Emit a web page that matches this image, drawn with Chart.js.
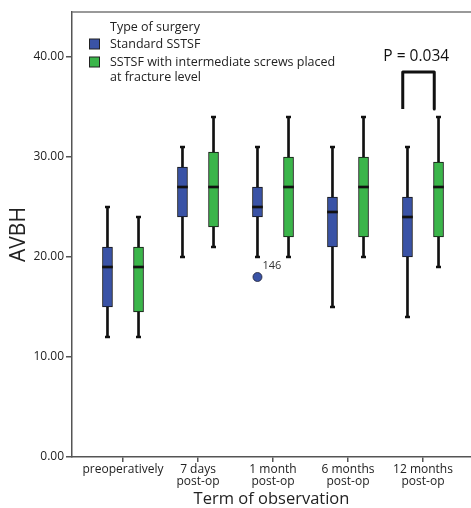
<!DOCTYPE html>
<html>
<head>
<meta charset="utf-8">
<script src="https://cdn.jsdelivr.net/npm/chart.js@4/dist/chart.umd.min.js"></script>
<style>
  html, body { margin: 0; padding: 0; background: #fff; overflow: hidden; }
  canvas { display: block; }
</style>
</head>
<body>
<canvas id="c" width="471" height="508"></canvas>
<script>
// ---- data ----
const categories = [["preoperatively"], ["7 days", "post-op"], ["1 month", "post-op"], ["6 months", "post-op"], ["12 months", "post-op"]];
const seriesNames = ["Standard SSTSF", "SSTSF with intermediate screws placed|at fracture level"];
const legendTitle = "Type of surgery";

const standardMin = [12, 20, 20, 15, 14];
const standardQ1  = [15, 24, 24, 21, 20];
const standardMed = [19, 27, 25, 24.5, 24];
const standardQ3  = [21, 29, 27, 26, 26];
const standardMax = [25, 31, 31, 31, 31];

const intermMin = [12, 21, 20, 20, 19];
const intermQ1  = [14.5, 23, 22, 22, 22];
const intermMed = [19, 27, 27, 27, 27];
const intermQ3  = [21, 30.5, 30, 30, 29.5];
const intermMax = [24, 34, 34, 34, 34];

const outlierCategory = [2];
const outlierValue = [18];
const outlierLabel = ["146"];

const pCategory = 4;
const pBracketLow = 34.8;
const pBracketHigh = 38.5;
const pText = "P = 0.034";

const yTicks = [0, 10, 20, 30, 40];

// ---- styling / layout constants ----
const BLUE = "#3a53a6";
const GREEN = "#3bb54a";
const OFF = 0.207;
const FONT = "'Open Sans', 'DejaVu Sans', sans-serif";

function boxData(offset, lo, hi) {
  return lo.map((v, i) => ({ x: i + offset, y: [v, hi[i]] }));
}
function medData(offset, med) {
  return med.map((v, i) => ({ x: i + offset, y: [v - 0.1, v + 0.1] }));
}
function capData(offset, mn, mx) {
  const out = [];
  mn.forEach((v, i) => { out.push({ x: i + offset, y: v }); out.push({ x: i + offset, y: mx[i] }); });
  return out;
}

const datasets = [];
[[-OFF, standardMin, standardQ1, standardMed, standardQ3, standardMax, BLUE],
 [OFF, intermMin, intermQ1, intermMed, intermQ3, intermMax, GREEN]].forEach(s => {
  const [off, mn, q1, md, q3, mx, col] = s;
  datasets.push({ type: 'bar', data: boxData(off, mn, mx), backgroundColor: '#111', barThickness: 2, grouped: false, order: 6 });
  datasets.push({ type: 'bar', data: boxData(off, q1, q3), backgroundColor: col, borderColor: '#111', borderWidth: 1, borderSkipped: false, barThickness: 10, grouped: false, order: 5 });
  datasets.push({ type: 'bar', data: medData(off, md), backgroundColor: '#111', barThickness: 10, grouped: false, order: 4 });
  datasets.push({ type: 'scatter', data: capData(off, mn, mx), pointStyle: 'line', radius: 2.5, borderWidth: 2.5, borderColor: '#111', order: 3 });
});
datasets.push({ type: 'scatter', data: outlierCategory.map((c, i) => ({ x: c - OFF, y: outlierValue[i] })),
  pointStyle: 'circle', radius: 4.5, backgroundColor: BLUE, borderColor: '#223', borderWidth: 0.8, order: 2 });
datasets.push({ type: 'line', data: [
    { x: pCategory - 0.27, y: pBracketLow }, { x: pCategory - 0.27, y: pBracketHigh },
    { x: pCategory + 0.15, y: pBracketHigh }, { x: pCategory + 0.15, y: pBracketLow }],
  borderColor: '#111', borderWidth: 3, pointRadius: 0, tension: 0, borderJoinStyle: 'round', fill: false, order: 1 });

const extras = {
  id: 'extras',
  afterDraw(chart) {
    const ctx = chart.ctx, a = chart.chartArea, xs = chart.scales.x, ys = chart.scales.y;
    ctx.save();
    // the plot is open on the right: keep the blank margin clean
    ctx.fillStyle = '#fff';
    ctx.fillRect(a.right - 3, 0, chart.width - a.right + 3, a.bottom - 1);
    // top frame line
    ctx.strokeStyle = '#777'; ctx.lineWidth = 1.5;
    ctx.beginPath(); ctx.moveTo(a.left, a.top); ctx.lineTo(chart.width, a.top); ctx.stroke();
    // legend
    ctx.fillStyle = '#222'; ctx.font = "12.5px " + FONT; ctx.textBaseline = 'middle'; ctx.textAlign = 'left';
    ctx.fillText(legendTitle, 110, 27);
    const cols = [BLUE, GREEN];
    let y = 44;
    seriesNames.forEach((n, i) => {
      ctx.fillStyle = cols[i]; ctx.fillRect(89.5, y - 5, 10, 10);
      ctx.strokeStyle = '#222'; ctx.lineWidth = 1; ctx.strokeRect(89.5, y - 5, 10, 10);
      ctx.fillStyle = '#222';
      n.split('|').forEach((line, j) => { ctx.fillText(line, 110, y + j * 15); });
      y += 18;
    });
    // outlier labels
    ctx.font = "11px " + FONT; ctx.fillStyle = '#333';
    outlierCategory.forEach((c, i) => {
      ctx.fillText(outlierLabel[i], xs.getPixelForValue(c - OFF) + 5, ys.getPixelForValue(outlierValue[i]) - 11);
    });
    // p value
    ctx.font = "15.5px " + FONT; ctx.fillStyle = '#111'; ctx.textAlign = 'center';
    ctx.fillText(pText, xs.getPixelForValue(pCategory - 0.09), ys.getPixelForValue(pBracketHigh) - 15);
    ctx.restore();
  }
};

new Chart(document.getElementById('c'), {
  type: 'bar',
  data: { datasets },
  options: {
    responsive: false, animation: false, devicePixelRatio: 1,
    layout: { autoPadding: false, padding: { top: 12, right: 0, left: 0, bottom: 0 } },
    plugins: { legend: { display: false }, tooltip: { enabled: false } },
    scales: {
      x: {
        type: 'linear', position: 'bottom', min: -0.68, max: 4.64, offset: false,
        afterBuildTicks: s => { s.ticks = categories.map((c, i) => ({ value: i })); },
        afterFit: s => { s.height = 51; s.paddingLeft = 0; s.paddingRight = 0; },
        ticks: { callback: v => categories[v], autoSkip: false, maxRotation: 0, padding: 2,
                 color: '#222', font: { family: FONT, size: 12, lineHeight: 1.0 } },
        grid: { drawOnChartArea: false, drawTicks: true, tickLength: 5, color: '#555', lineWidth: 1.5, offset: false },
        border: { color: '#555', width: 1.5 },
        title: { display: true, text: 'Term of observation', color: '#222', font: { family: FONT, size: 16.5, lineHeight: 1.1 }, padding: { top: 0, bottom: 0 } }
      },
      y: {
        type: 'linear', min: 0, max: 44.5,
        afterBuildTicks: s => { s.ticks = yTicks.map(v => ({ value: v })); },
        afterFit: s => { s.width = 72; s.paddingTop = 0; s.paddingBottom = 0; },
        ticks: { callback: v => v.toFixed(2), padding: 2, color: '#222', font: { family: FONT, size: 12 } },
        grid: { drawOnChartArea: false, drawTicks: true, tickLength: 6, color: '#555', lineWidth: 1.5 },
        border: { color: '#555', width: 1.5 },
        title: { display: true, text: 'AVBH', color: '#222', font: { family: FONT, size: 21 }, padding: { top: 6, bottom: 0 } }
      }
    }
  },
  plugins: [extras]
});
</script>
</body>
</html>
